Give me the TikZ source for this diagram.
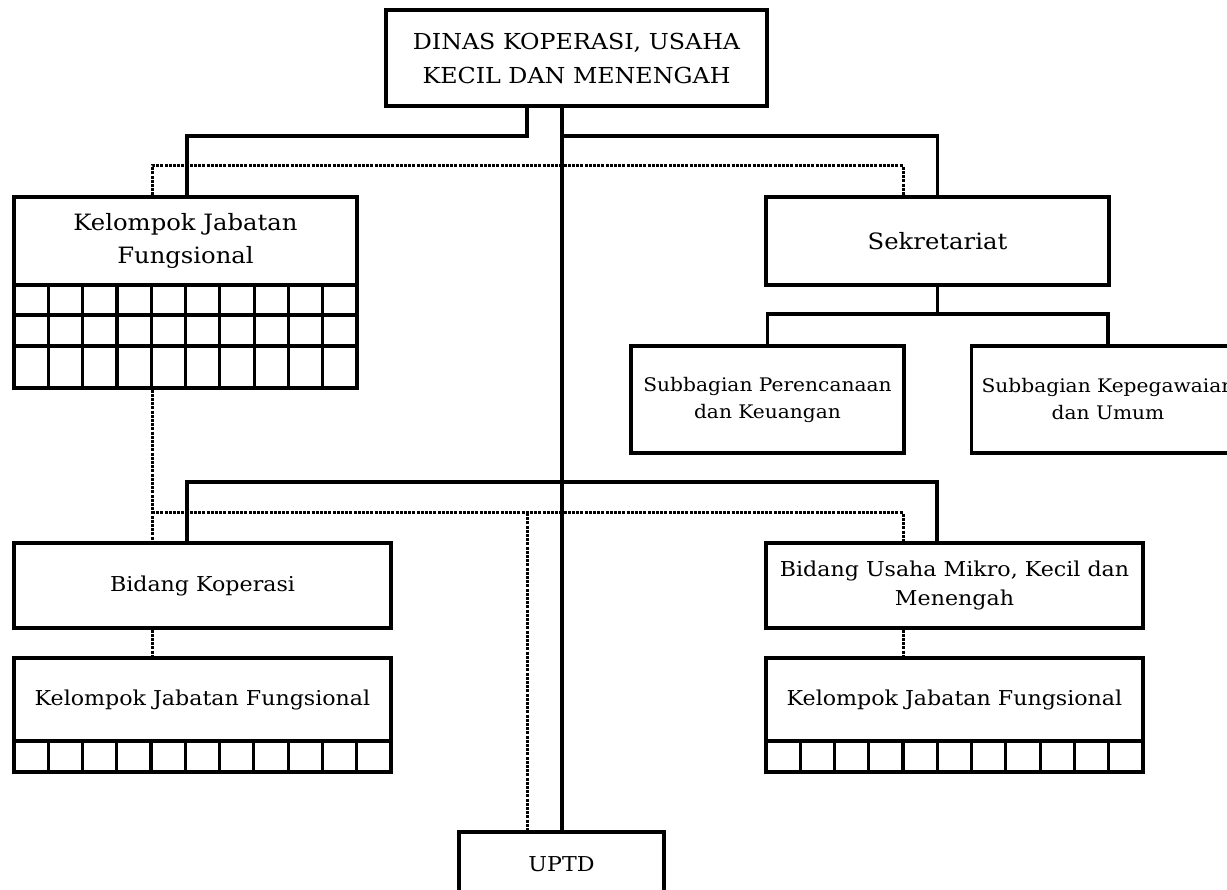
\documentclass[tikz,border=0pt]{standalone}
\usepackage{fontspec}
\setmainfont[FakeStretch=1.08]{DejaVu Serif}
\begin{document}
\begin{tikzpicture}[x=1pt,y=-1pt,
  box/.style={draw, line width=3.2pt, rectangle, inner sep=0pt, align=center, font=\fontsize{20.5}{29}\selectfont},
  conn/.style={line width=3.2pt},
  dotc/.style={line width=3pt, dash pattern=on 3pt off 1.2pt},
  gridl/.style={line width=3.2pt}]
\useasboundingbox (0,0) rectangle (1227,890);
\clip (0,0) rectangle (1227,890);
% boxes
\node[box, minimum width=381pt, minimum height=96pt, font=\fontsize{22}{34}\selectfont] (top) at (576.5,58) {DINAS KOPERASI, USAHA\\KECIL DAN MENENGAH};
\node[box, minimum width=343pt, minimum height=88pt, font=\fontsize{22.5}{33}\selectfont] (kjf1) at (185.5,241) {Kelompok Jabatan\\Fungsional};
\node[box, minimum width=343pt, minimum height=103pt] (kjf1g) at (185.5,336.5) {};
\node[box, minimum width=343pt, minimum height=88pt, font=\fontsize{22.5}{33}\selectfont] (sek) at (937.5,241) {Sekretariat};
\node[box, minimum width=273pt, minimum height=107pt, font=\fontsize{18.7}{27}\selectfont] (sp1) at (767.5,399.5) {Subbagian Perencanaan\\dan Keuangan};
\node[box, minimum width=273pt, minimum height=107pt, font=\fontsize{18.7}{27}\selectfont] (sp2) at (1108,399.5) {Subbagian Kepegawaian\\dan Umum};
\node[box, minimum width=377pt, minimum height=85pt] (bk) at (202.5,585.5) {Bidang Koperasi};
\node[box, minimum width=377pt, minimum height=83pt] (kjf2) at (202.5,699.5) {Kelompok Jabatan Fungsional};
\node[box, minimum width=377pt, minimum height=31pt] (kjf2g) at (202.5,756.5) {};
\node[box, minimum width=377pt, minimum height=85pt] (bu) at (954.5,585.5) {Bidang Usaha Mikro, Kecil dan\\Menengah};
\node[box, minimum width=377pt, minimum height=83pt] (kjf3) at (954.5,699.5) {Kelompok Jabatan Fungsional};
\node[box, minimum width=377pt, minimum height=31pt] (kjf3g) at (954.5,756.5) {};
\node[box, minimum width=205pt, minimum height=64pt] (uptd) at (561.5,864) {UPTD};
% grids
\foreach \i in {1,...,9} { \draw[gridl] ({14+\i*34.3},285) -- ({14+\i*34.3},388); }
\draw[gridl] (14,315) -- (357,315);
\draw[gridl] (14,346) -- (357,346);
\foreach \i in {1,...,10} {
  \draw[gridl] ({14+\i*34.27},741) -- ({14+\i*34.27},772);
  \draw[gridl] ({766+\i*34.27},741) -- ({766+\i*34.27},772);
}
% coordinates
\coordinate (cL) at (527,136);
\coordinate (cC) at (562,136);
\coordinate (xk) at (187,482);
\coordinate (xu) at (937,482);
\coordinate (xd) at (152,166);
\coordinate (xs) at (903,166);
\coordinate (dy2) at (0,513);
\coordinate (sy) at (0,314);
% solid connectors
\draw[conn] (top.south -| cL) -- (cL) -| (kjf1.north -| xk);
\draw[conn] (top.south -| cC) -- (uptd.north -| cC);
\draw[conn] (cC) -| (sek.north);
\draw[conn] (bk.north -| xk) -- (xk) -- (xu) -- (bu.north -| xu);
\draw[conn] (sek.south) -- (sek.south |- sy);
\draw[conn] (sp1.north) -- (sp1.north |- sy) -- (sp2.north |- sy) -- (sp2.north);
% dotted connectors
\draw[dotc] (kjf1.north -| xd) -- (xd) -- (xs) -- (sek.north -| xs);
\draw[dotc] (kjf1g.south -| xd) -- (bk.north -| xd);
\draw[dotc] (xd |- dy2) -- (xs |- dy2) -- (bu.north -| xs);
\draw[dotc] (cL |- dy2) -- (uptd.north -| cL);
\draw[dotc] (bk.south -| xd) -- (kjf2.north -| xd);
\draw[dotc] (bu.south -| xs) -- (kjf3.north -| xs);
\end{tikzpicture}
\end{document}
